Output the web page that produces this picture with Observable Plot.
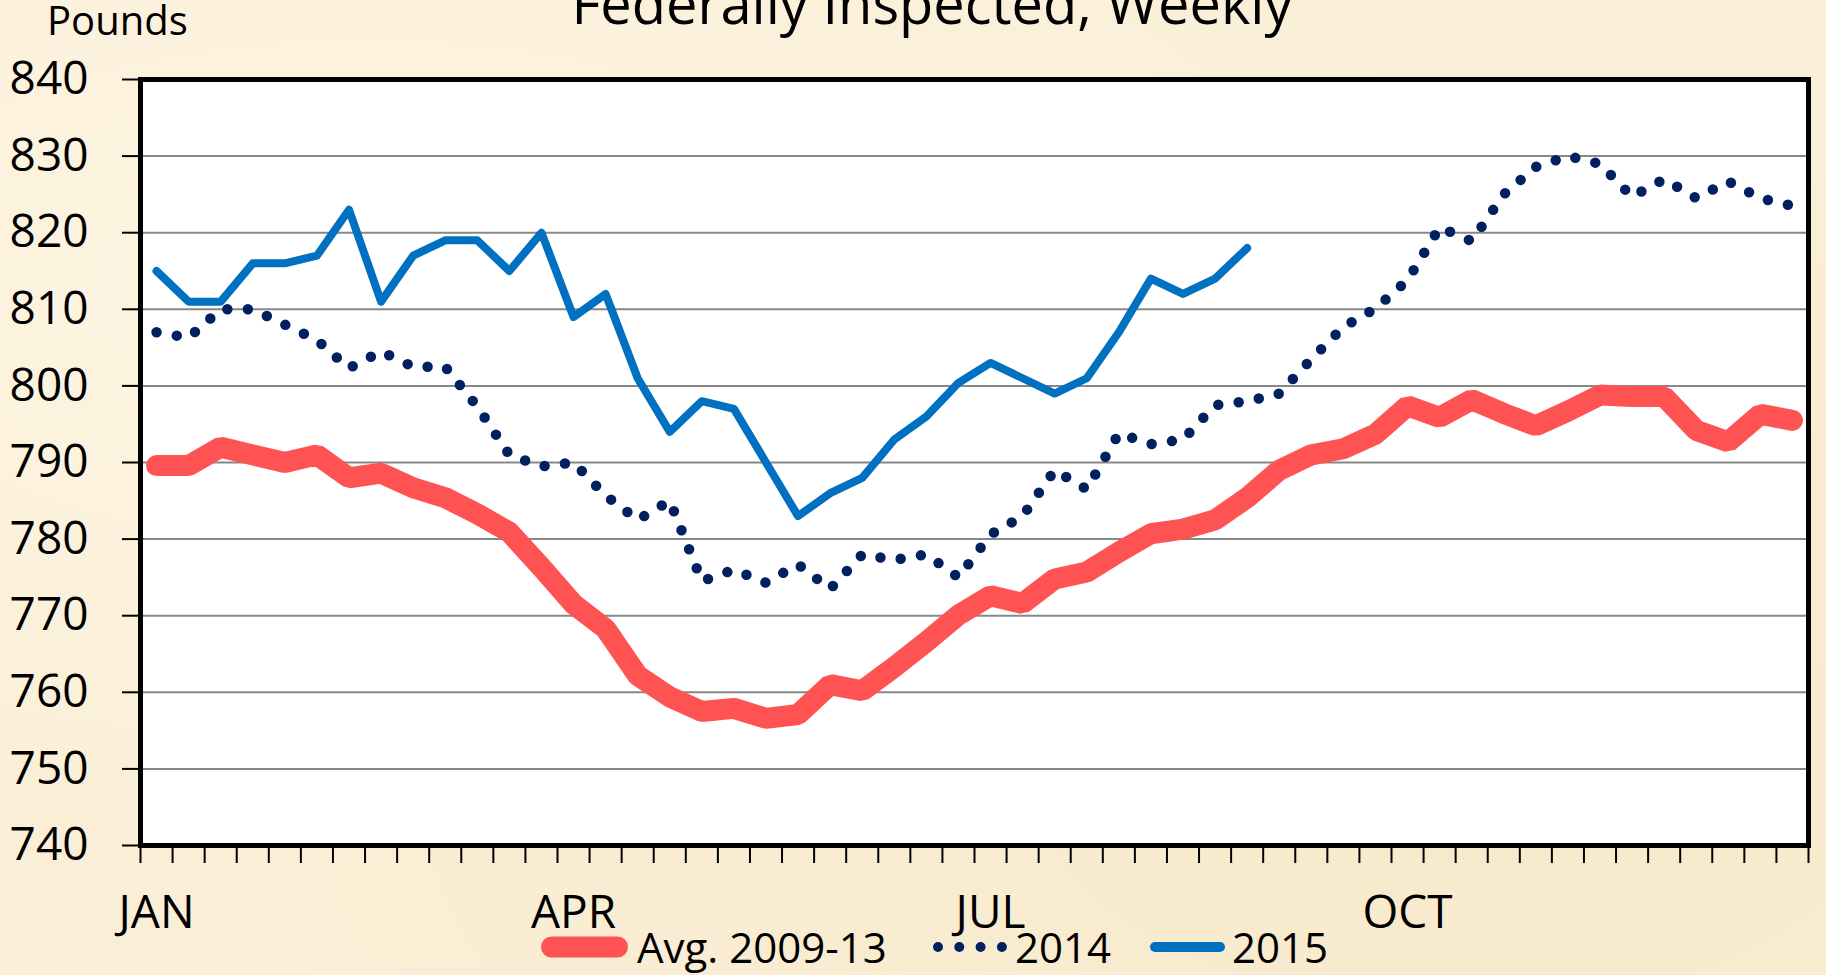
<!DOCTYPE html>
<html>
<head>
<meta charset="utf-8">
<script src="https://cdn.jsdelivr.net/npm/d3@7"></script>
<script src="https://cdn.jsdelivr.net/npm/@observablehq/plot@0.6"></script>
<style>
  html, body { margin: 0; padding: 0; overflow: hidden; background: #FBF0DA; }
  #wrap {
    position: relative; width: 1826px; height: 975px; overflow: hidden;
    font-family: "Open Sans", sans-serif; color: #000;
    background:
      radial-gradient(ellipse at 20% 30%, rgba(255,248,232,0.7), rgba(255,248,232,0) 60%),
      radial-gradient(ellipse at 80% 80%, rgba(246,230,196,0.6), rgba(246,230,196,0) 60%),
      #FAEED6;
  }
  #title { position: absolute; left: 0; width: 1864px; top: -26px; text-align: center;
           font-size: 56px; line-height: 56px; white-space: nowrap; }
  #units { position: absolute; left: 47px; top: 0px; font-size: 40px; line-height: 40px; }
  #chart { position: absolute; left: 0; top: 0; }
  #legend { position: absolute; left: 541px; top: 927px; height: 40px; display: flex; align-items: center;
            font-size: 42px; line-height: 40px; white-space: nowrap; }
  #legend svg { display: block; }
  #legend .lbl { display: inline-block; }
</style>
</head>
<body>
<div id="wrap">
  <div id="chart"></div>
  <div id="title">Federally Inspected, Weekly</div>
  <div id="units">Pounds</div>
  <div id="legend"></div>
</div>
<script>
// ---- data (pounds, weekly) ----
const avg0913 = [789.6, 789.6, 792, 791, 790, 791, 788, 788.6, 786.7, 785.4, 783.3, 780.9, 776.3, 771.5, 768.3, 762.2,
  759.4, 757.5, 757.9, 756.6, 757.1, 761, 760.2, 763.3, 766.6, 770.1, 772.6, 771.6, 774.8, 775.7, 778.3, 780.7,
  781.3, 782.5, 785.4, 789, 791, 791.8, 793.7, 797.4, 795.9, 798.2, 796.4, 794.8, 796.7, 798.8, 798.6, 798.6,
  794.2, 792.7, 796.3, 795.5];
const y2014 = [807, 806.3, 810, 810, 808, 806, 802.3, 804.5, 802.5, 802.5, 797.3, 791, 789.5, 790, 785.7, 782.5,
  785, 774.5, 776, 774.3, 776.7, 773.5, 778, 777.3, 778, 775, 780.6, 783, 789, 786.5, 793.8, 792.4,
  793, 797.5, 798, 799, 803.5, 807.7, 810.1, 813.8, 820.7, 818.9, 825, 828.6, 830, 829, 824.7, 827,
  824.5, 826.7, 824.5, 823.5];
const y2015 = [815, 811, 811, 816, 816, 817, 823, 811, 817, 819, 819, 815, 820, 809, 812, 801,
  794, 798, 797, 790, 783, 786, 788, 793, 796, 800.4, 803, 801, 799, 801, 807, 814,
  812, 814, 818];
const monthLabels = ["JAN", "APR", "JUL", "OCT"];
const monthWeeks = [0, 13, 26, 39];
const yTicks = [740, 750, 760, 770, 780, 790, 800, 810, 820, 830, 840];
const weekCount = 52;
const seriesNames = ["Avg. 2009-13", "2014", "2015"];

// ---- build ----
const rows = arr => arr.map((v, i) => ({week: i + 0.5, value: v}));
const gridTicks = yTicks.slice(1, -1);

const chart = Plot.plot({
  width: 1826,
  height: 935,
  marginLeft: 140,
  marginRight: 18,
  marginTop: 79,
  marginBottom: 90,
  style: {fontFamily: "'Open Sans', sans-serif", background: "transparent", overflow: "visible", color: "#000"},
  x: {domain: [0, weekCount]},
  y: {domain: [yTicks[0], yTicks[yTicks.length - 1]]},
  marks: [
    Plot.frame({fill: "white", stroke: "none"}),
    Plot.gridY(gridTicks, {stroke: "#878787", strokeOpacity: 1, strokeWidth: 2}),
    Plot.line(rows(avg0913), {x: "week", y: "value", stroke: "#FF5252", strokeWidth: 21,
      strokeLinecap: "round", strokeLinejoin: "miter"}),
    Plot.line(rows(y2014), {x: "week", y: "value", stroke: "#002060", strokeWidth: 10.5,
      strokeDasharray: "0 20.5", strokeLinecap: "round"}),
    Plot.line(rows(y2015), {x: "week", y: "value", stroke: "#0070C0", strokeWidth: 8,
      strokeLinecap: "round", strokeLinejoin: "round"}),
    Plot.axisY(yTicks, {tickSize: 18, tickPadding: 34, fontSize: 46, strokeWidth: 2, label: null}),
    Plot.axisX(d3.range(weekCount + 1), {tickSize: 18, tickFormat: () => "", strokeWidth: 2, label: null}),
    Plot.axisX(monthWeeks.map(w => w + 0.5), {tickSize: 0, tickPadding: 50, fontSize: 46, label: null,
      tickFormat: d => monthLabels[monthWeeks.indexOf(d - 0.5)]}),
    Plot.frame({stroke: "#000", strokeWidth: 5})
  ]
});
document.getElementById("chart").appendChild(chart);

// ---- legend ----
const legend = d3.select("#legend");
function addItem(name, swatch, swW, gapAfterSwatch, labelW, gapAfter) {
  const s = legend.append("svg").attr("width", swW).attr("height", 26);
  swatch(s, swW);
  legend.append("span").attr("class", "lbl")
    .style("margin-left", gapAfterSwatch + "px")
    .style("width", labelW + "px")
    .style("margin-right", gapAfter + "px")
    .text(name);
}
addItem(seriesNames[0], (s, w) => s.append("line").attr("x1", 10.5).attr("x2", w - 10.5).attr("y1", 13).attr("y2", 13)
  .attr("stroke", "#FF5252").attr("stroke-width", 21).attr("stroke-linecap", "round"), 87, 9, 253, 43);
addItem(seriesNames[1], (s, w) => s.append("line").attr("x1", 5).attr("x2", w - 5).attr("y1", 13).attr("y2", 13)
  .attr("stroke", "#002060").attr("stroke-width", 10).attr("stroke-dasharray", "0 21.3").attr("stroke-linecap", "round"), 74, 8, 90, 45);
addItem(seriesNames[2], (s, w) => s.append("line").attr("x1", 5).attr("x2", w - 5).attr("y1", 13).attr("y2", 13)
  .attr("stroke", "#0070C0").attr("stroke-width", 10).attr("stroke-linecap", "round"), 75, 7, 90, 0);
</script>
</body>
</html>
